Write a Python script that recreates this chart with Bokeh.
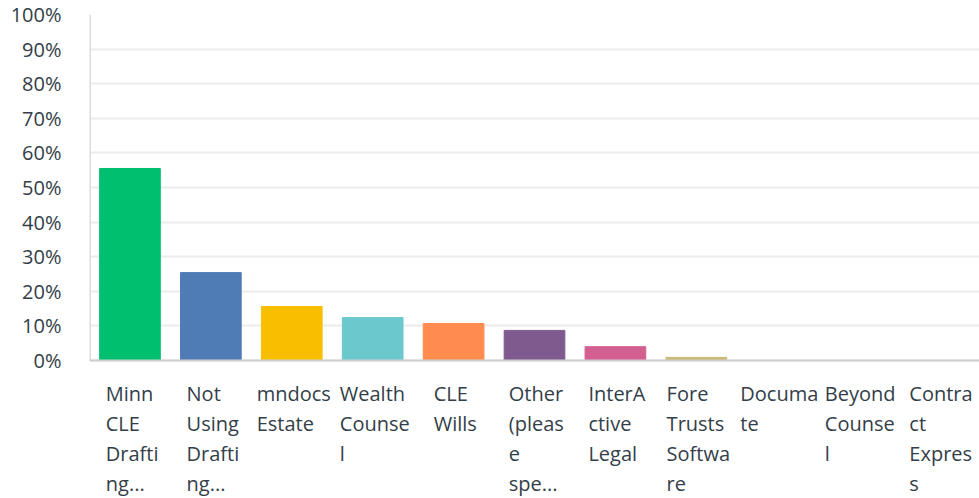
from bokeh.plotting import figure
from bokeh.models import ColumnDataSource, FixedTicker, NumeralTickFormatter, Range1d, Span
from bokeh.core.properties import value
from bokeh.embed import file_html
from bokeh.resources import INLINE

categories = ["Minn CLE Drafting...", "Not Using Drafting...", "mndocs Estate", "Wealth Counsel",
              "CLE Wills", "Other (please spe...", "InterActive Legal", "Fore Trusts Software",
              "Documate", "Beyond Counsel", "Contract Express"]
tick_labels = ["Minn\nCLE\nDrafti\nng...", "Not\nUsing\nDrafti\nng...", "mndocs\nEstate",
               "Wealth\nCounse\nl", "CLE\nWills", "Other\n(pleas\ne\nspe...", "InterA\nctive\nLegal",
               "Fore\nTrusts\nSoftwa\nre", "Documa\nte", "Beyond\nCounse\nl", "Contra\nct\nExpres\ns"]
values = [0.555, 0.254, 0.156, 0.124, 0.107, 0.087, 0.040, 0.009, 0.0, 0.0, 0.0]
colors = ["#00BF6F", "#507CB6", "#F9BE00", "#6BC8CD", "#FF8B4F", "#7F5A8F", "#D25F90",
          "#C9B976", "#A0A0A0", "#A0A0A0", "#A0A0A0"]
y_ticks = [i / 10 for i in range(11)]

FRAME_W, PLOT_H, BELOW_H = 890, 346, 138
FONT_PX = 20

# rough Open Sans advance widths (em) to centre each wrapped label block under its bar
_W = {"i": .26, "l": .26, "j": .26, "t": .36, "f": .32, "r": .41, " ": .26, ".": .27,
      "(": .30, "s": .48, "c": .48, "e": .56, "a": .56, "o": .60, "n": .61, "u": .61,
      "d": .61, "g": .55, "p": .61, "h": .61, "v": .50, "x": .52, "y": .50, "k": .52,
      "m": .93, "w": .78, "b": .61, "M": .90, "C": .63, "L": .52, "E": .56, "D": .71,
      "N": .75, "U": .73, "W": .93, "I": .33, "A": .63, "F": .53, "T": .55, "S": .55,
      "B": .65, "O": .78}


def block_offset(label):
    width = max(sum(_W.get(ch, .58) for ch in line) for line in label.split("\n")) * FONT_PX
    return -width / 2 + 2


src = ColumnDataSource(dict(cat=categories, val=values, color=colors, lab=tick_labels,
                            base=[0.0] * len(categories),
                            xoff=[block_offset(t) for t in tick_labels]))

p = figure(x_range=categories, frame_width=FRAME_W, frame_height=PLOT_H + BELOW_H,
           output_backend="svg", toolbar_location=None, min_border_top=14,
           min_border_right=0, min_border_bottom=0, min_border_left=89)
p.y_range = Range1d(-BELOW_H / PLOT_H, 1)
p.vbar(x="cat", top="val", width=0.75, color="color", source=src)

p.outline_line_color = None
p.xgrid.grid_line_color = None
p.ygrid.grid_line_color = "#ececec"
p.ygrid.grid_line_width = 2

p.yaxis.ticker = FixedTicker(ticks=y_ticks)
p.yaxis.formatter = NumeralTickFormatter(format="0%")
p.yaxis.major_tick_line_color = None
p.yaxis.minor_tick_line_color = None
p.yaxis.axis_line_color = None
p.yaxis.major_label_text_font = "Open Sans"
p.yaxis.major_label_text_font_size = "20px"
p.yaxis.major_label_text_color = "#333e48"
p.yaxis.major_label_standoff = 22
p.xaxis.visible = False

# left axis line (0% to 100%) and baseline
p.segment(x0=[0], y0=[0], x1=[0], y1=[1], line_color="#dcdcdc", line_width=3)
p.add_layout(Span(location=0, dimension="width", line_color="#cfcfcf", line_width=2))

p.text(x="cat", y="base", text="lab", source=src, x_offset="xoff", y_offset=19,
       text_align="left", text_baseline="top", text_font=value("Open Sans"),
       text_font_size=f"{FONT_PX}px", text_color="#333e48", text_line_height=1.12)

open("out.html", "w").write(file_html(p, INLINE))
